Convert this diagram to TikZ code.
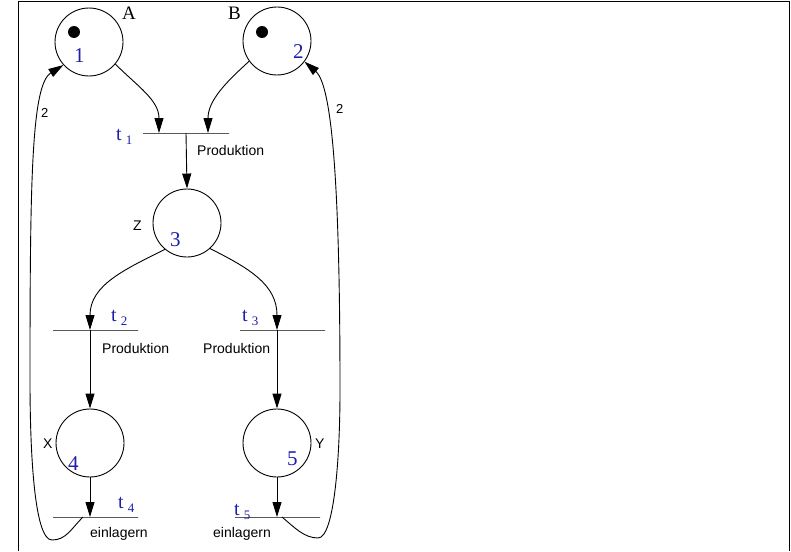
\documentclass[tikz,border=0pt]{standalone}
\usepackage{fontspec}
\setmainfont{Liberation Serif}
\setsansfont{Liberation Sans}
\usetikzlibrary{arrows.meta,calc}
\definecolor{numblue}{RGB}{30,30,170}
\newcommand{\tsub}[1]{t\kern4pt\raisebox{-4pt}{\fontsize{13}{13}\selectfont #1}}
\begin{document}
\begin{tikzpicture}[x=1pt,y=-1pt,
  place/.style={circle,draw,line width=0.9pt,minimum size=68pt,inner sep=0pt},
  trans/.style={rectangle,draw,line width=0.9pt,minimum height=0pt,inner sep=0pt},
  arc/.style={line width=0.9pt,-{Triangle[length=15pt,width=9pt]}},
  token/.style={circle,fill,inner sep=0pt,minimum size=12pt},
  sfl/.style={font=\sffamily\fontsize{14}{14}\selectfont,anchor=base west,inner sep=0pt},
  wl/.style={font=\sffamily\fontsize{13}{13}\selectfont,anchor=base west,inner sep=0pt},
  big/.style={font=\fontsize{19}{19}\selectfont,anchor=base west,inner sep=0pt},
  num/.style={font=\fontsize{21}{21}\selectfont,text=numblue,anchor=base west,inner sep=0pt},
  tlab/.style={font=\fontsize{20}{20}\selectfont,text=numblue,anchor=base west,inner sep=0pt},
]
\useasboundingbox (0,0) rectangle (791,551);
\draw[line width=1pt] (18,551) -- (18,2) -- (789,2) -- (789,551);

% places
\node[place] (p1) at (89,42) {};
\node[place] (p2) at (277,41) {};
\node[place] (p3) at (187,223) {};
\node[place] (p4) at (90,443) {};
\node[place] (p5) at (277,443) {};

% tokens
\node[token] (k1) at (74,32) {};
\node[token] (k2) at (262,32) {};

% transitions
\node[trans,minimum width=86pt] (t1) at (186,133) {};
\node[trans,minimum width=85pt] (t2) at (95.5,330) {};
\node[trans,minimum width=85pt] (t3) at (282.5,330) {};
\node[trans,minimum width=85pt] (t4) at (95.5,517) {};
\node[trans,minimum width=85pt] (t5) at (277.5,517) {};

% place labels
\node[big] (lA) at (122,20) {A};
\node[big] (lB) at (228,20) {B};
\node[num] (n1) at (74,63) {1};
\node[num] (n2) at (293,59) {2};
\node[num] (n3) at (170,246) {3};
\node[num] (n4) at (68,470) {4};
\node[num] (n5) at (287,465) {5};
\node[sfl] (lZ) at (133,230) {Z};
\node[sfl] (lX) at (43,448) {X};
\node[sfl] (lY) at (315,448) {Y};

% transition labels
\node[tlab] (lt1) at (116,140) {\tsub{1}};
\node[tlab] (lt2) at (111,321) {\tsub{2}};
\node[tlab] (lt3) at (242,321) {\tsub{3}};
\node[tlab] (lt4) at (118,508) {\tsub{4}};
\node[tlab] (lt5) at (234,515) {\tsub{5}};
\node[sfl] (pr1) at (197,155) {Produktion};
\node[sfl] (pr2) at (102,353) {Produktion};
\node[sfl] (pr3) at (203,353) {Produktion};
\node[sfl] (el4) at (90,537) {einlagern};
\node[sfl] (el5) at (213,537) {einlagern};

% weights
\node[wl] (w1) at (41,117) {2};
\node[wl] (w2) at (336,113) {2};

% arcs
\draw[arc] (p1.-40) .. controls +(22,22) and +(0,-33) .. ($(t1.center)+(-27,0)$);
\draw[arc] (p2.216) .. controls +(-22,20) and +(0,-33) .. ($(t1.center)+(22,0)$);
\draw[arc] (t1.center) -- (p3.north);
\draw[arc] (p3.230) .. controls +(-40,20) and +(0,-45) .. (t2.center -| p4.north);
\draw[arc] (p3.-48) .. controls +(40,20) and +(0,-45) .. (t3.center -| p5.north);
\draw[arc] (t2.center -| p4.north) -- (p4.north);
\draw[arc] (t3.center -| p5.north) -- (p5.north);
\draw[arc] (p4.south) -- (t4.center -| p4.south);
\draw[arc] (p5.south) -- (t5.center -| p5.south);

% feedback arcs
\draw[arc] ($(t4.center)+(-12.5,0)$) .. controls +(-12,12) and +(14,0) .. (52,540)
  .. controls +(-18,0) and +(0,70) .. (30,380)
  .. controls +(0,-200) and +(-32,20) .. (p1.222);
\draw[arc] ($(t5.center)+(4.5,0)$) .. controls +(12,10) and +(-14,0) .. (318,538)
  .. controls +(16,0) and +(0,70) .. (340,390)
  .. controls +(0,-200) and +(28,24) .. (p2.-37);
\end{tikzpicture}
\end{document}
